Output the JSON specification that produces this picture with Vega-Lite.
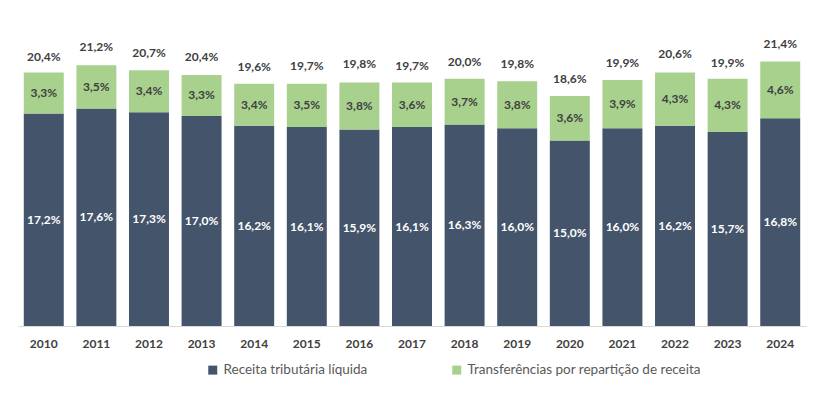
{
  "$schema": "https://vega.github.io/schema/vega-lite/v6.json",
  "width": 788,
  "height": 309,
  "autosize": {"type": "none"},
  "padding": {"left": 18, "top": 17, "right": 18, "bottom": 72},
  "config": {
    "view": {"stroke": null},
    "font": "Lato",
    "locale": {"number": {"decimal": ",", "thousands": ".", "grouping": [3], "currency": ["", "%"]}}
  },
  "datasets": {
    "segs": [
      {"year": "2010", "series": "Receita tributária líquida", "ord": 1, "v": 17.2},
      {"year": "2011", "series": "Receita tributária líquida", "ord": 1, "v": 17.6},
      {"year": "2012", "series": "Receita tributária líquida", "ord": 1, "v": 17.3},
      {"year": "2013", "series": "Receita tributária líquida", "ord": 1, "v": 17.0},
      {"year": "2014", "series": "Receita tributária líquida", "ord": 1, "v": 16.2},
      {"year": "2015", "series": "Receita tributária líquida", "ord": 1, "v": 16.1},
      {"year": "2016", "series": "Receita tributária líquida", "ord": 1, "v": 15.9},
      {"year": "2017", "series": "Receita tributária líquida", "ord": 1, "v": 16.1},
      {"year": "2018", "series": "Receita tributária líquida", "ord": 1, "v": 16.3},
      {"year": "2019", "series": "Receita tributária líquida", "ord": 1, "v": 16.0},
      {"year": "2020", "series": "Receita tributária líquida", "ord": 1, "v": 15.0},
      {"year": "2021", "series": "Receita tributária líquida", "ord": 1, "v": 16.0},
      {"year": "2022", "series": "Receita tributária líquida", "ord": 1, "v": 16.2},
      {"year": "2023", "series": "Receita tributária líquida", "ord": 1, "v": 15.7},
      {"year": "2024", "series": "Receita tributária líquida", "ord": 1, "v": 16.8},
      {"year": "2010", "series": "Transferências por repartição de receita", "ord": 2, "v": 3.3},
      {"year": "2011", "series": "Transferências por repartição de receita", "ord": 2, "v": 3.5},
      {"year": "2012", "series": "Transferências por repartição de receita", "ord": 2, "v": 3.4},
      {"year": "2013", "series": "Transferências por repartição de receita", "ord": 2, "v": 3.3},
      {"year": "2014", "series": "Transferências por repartição de receita", "ord": 2, "v": 3.4},
      {"year": "2015", "series": "Transferências por repartição de receita", "ord": 2, "v": 3.5},
      {"year": "2016", "series": "Transferências por repartição de receita", "ord": 2, "v": 3.8},
      {"year": "2017", "series": "Transferências por repartição de receita", "ord": 2, "v": 3.6},
      {"year": "2018", "series": "Transferências por repartição de receita", "ord": 2, "v": 3.7},
      {"year": "2019", "series": "Transferências por repartição de receita", "ord": 2, "v": 3.8},
      {"year": "2020", "series": "Transferências por repartição de receita", "ord": 2, "v": 3.6},
      {"year": "2021", "series": "Transferências por repartição de receita", "ord": 2, "v": 3.9},
      {"year": "2022", "series": "Transferências por repartição de receita", "ord": 2, "v": 4.3},
      {"year": "2023", "series": "Transferências por repartição de receita", "ord": 2, "v": 4.3},
      {"year": "2024", "series": "Transferências por repartição de receita", "ord": 2, "v": 4.6}
    ],
    "totals": [
      {"year": "2010", "total": 20.4},
      {"year": "2011", "total": 21.2},
      {"year": "2012", "total": 20.7},
      {"year": "2013", "total": 20.4},
      {"year": "2014", "total": 19.6},
      {"year": "2015", "total": 19.7},
      {"year": "2016", "total": 19.8},
      {"year": "2017", "total": 19.7},
      {"year": "2018", "total": 20.0},
      {"year": "2019", "total": 19.8},
      {"year": "2020", "total": 18.6},
      {"year": "2021", "total": 19.9},
      {"year": "2022", "total": 20.6},
      {"year": "2023", "total": 19.9},
      {"year": "2024", "total": 21.4}
    ]
  },
  "layer": [
    {
      "data": {"name": "segs"},
      "transform": [{"stack": "v", "groupby": ["year"], "sort": [{"field": "ord", "order": "ascending"}], "as": ["v0", "v1"]}],
      "mark": {"type": "bar"},
      "encoding": {
        "x": {
          "field": "year", "type": "nominal", "sort": null,
          "scale": {"paddingInner": 0.24, "paddingOuter": 0.11},
          "axis": {"title": null, "labelAngle": 0, "ticks": false, "domainColor": "#d9d9d9", "labelFontWeight": "bold", "labelFontSize": 12, "labelColor": "#404040", "labelPadding": 12}
        },
        "y": {"field": "v0", "type": "quantitative", "scale": {"domain": [0, 25], "nice": false}, "axis": null},
        "y2": {"field": "v1"},
        "color": {
          "field": "series", "type": "nominal",
          "scale": {"domain": ["Receita tributária líquida", "Transferências por repartição de receita"], "range": ["#44546a", "#a9d18e"]},
          "legend": {"title": null, "orient": "none", "direction": "horizontal", "legendX": 188, "legendY": 346, "symbolType": "square", "symbolSize": 81, "symbolStrokeWidth": 0, "labelFontSize": 13.5, "labelColor": "#595959", "columnPadding": 82, "labelOffset": 4, "labelLimit": 400}
        }
      }
    },
    {
      "data": {"name": "segs"},
      "transform": [{"stack": "v", "groupby": ["year"], "sort": [{"field": "ord", "order": "ascending"}], "as": ["v0", "v1"]}],
      "mark": {"type": "text", "fontWeight": "bold", "fontSize": 12, "baseline": "middle", "dy": {"expr": "datum.v * 6.18"}},
      "encoding": {
        "x": {"field": "year", "type": "nominal", "sort": null},
        "y": {"field": "v1", "type": "quantitative", "scale": {"domain": [0, 25], "nice": false}},
        "text": {"field": "v", "type": "quantitative", "format": "$.1f"},
        "color": {"condition": {"test": "datum.ord == 1", "value": "#ffffff"}, "value": "#404040"}
      }
    },
    {
      "data": {"name": "totals"},
      "mark": {"type": "text", "fontWeight": "bold", "fontSize": 12, "baseline": "bottom", "dy": -10},
      "encoding": {
        "x": {"field": "year", "type": "nominal", "sort": null},
        "y": {"field": "total", "type": "quantitative", "scale": {"domain": [0, 25], "nice": false}},
        "text": {"field": "total", "type": "quantitative", "format": "$.1f"},
        "color": {"value": "#404040"}
      }
    }
  ]
}
